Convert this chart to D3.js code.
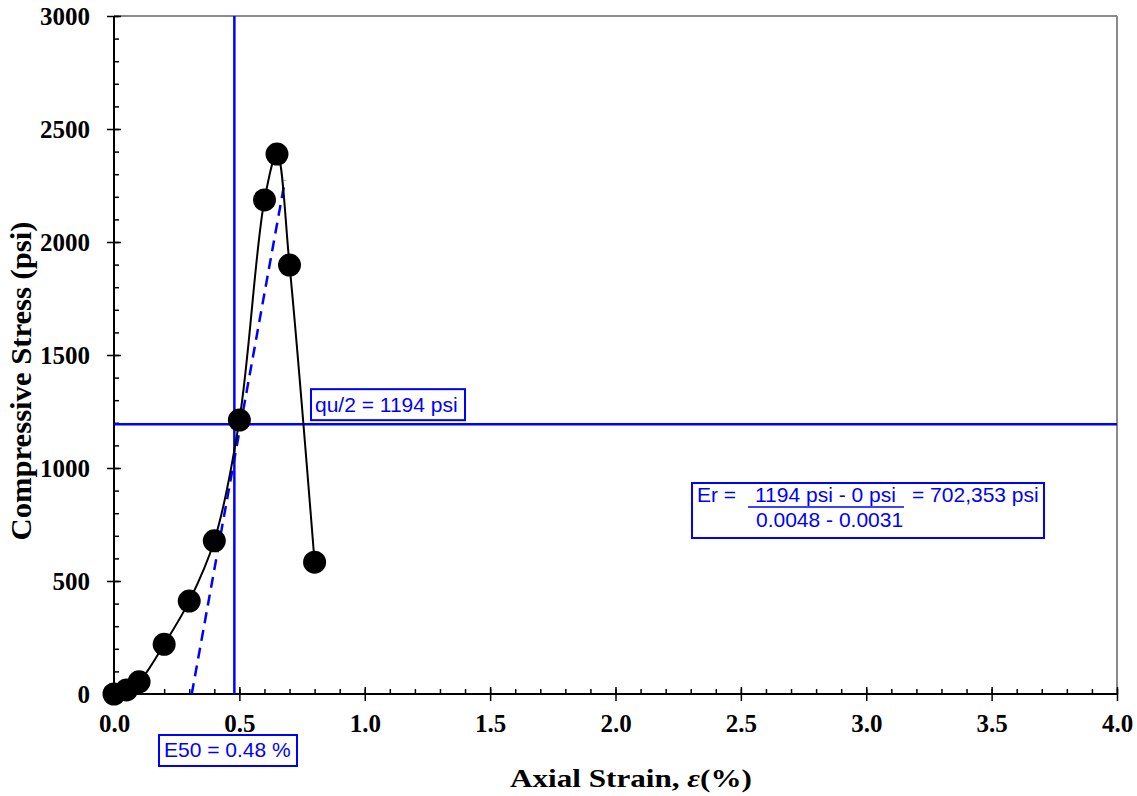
<!DOCTYPE html>
<html>
<head>
<meta charset="utf-8">
<script src="https://cdn.jsdelivr.net/npm/d3@7"></script>
<style>
  html, body { margin: 0; padding: 0; background: #fff; }
  svg { display: block; }
</style>
</head>
<body>
<svg id="chart" width="1137" height="796"></svg>
<script>
// Unconfined compression test: stress vs. axial strain
const strain = [0, 0.05, 0.1, 0.2, 0.3, 0.4, 0.5, 0.6, 0.65, 0.7, 0.8];      // %
const stress = [0, 18, 54, 220, 411, 678, 1212, 2186, 2389, 1898, 583];     // psi

const xTicks = [0, 0.5, 1, 1.5, 2, 2.5, 3, 3.5, 4];
const yTicks = [0, 500, 1000, 1500, 2000, 2500, 3000];

// Reference values
const e50 = 0.48;          // strain at half peak stress (%)
const quHalf = 1194;       // half of peak compressive stress (psi)
const tangentStrain = [0.31, 0.682];   // tangent line end points (%)
const tangentStress = [0, 2274];       // psi

const svg = d3.select("#chart");
const plotLeft = 114, plotRight = 1117, plotTop = 16, plotBottom = 694;

const x = d3.scaleLinear().domain([0, 4]).range([plotLeft, plotRight]);
const y = d3.scaleLinear().domain([0, 3000]).range([plotBottom, plotTop]);

const BLUE = "#0000ff";
const serif = "'Liberation Serif', 'Times New Roman', serif";
const sans = "'Liberation Sans', Arial, sans-serif";

// Frame: gray top and right edges
svg.append("line").attr("x1", plotLeft).attr("x2", plotRight).attr("y1", plotTop).attr("y2", plotTop)
  .attr("stroke", "#8a8a8a").attr("stroke-width", 2);
svg.append("line").attr("x1", plotRight).attr("x2", plotRight).attr("y1", plotTop).attr("y2", plotBottom)
  .attr("stroke", "#8a8a8a").attr("stroke-width", 2);

// Minor ticks (inside)
const xMinor = d3.range(0, 4.0001, 0.1);
const yMinor = d3.range(0, 3001, 100);
svg.append("g").attr("transform", `translate(0,${plotBottom})`)
  .call(d3.axisBottom(x).tickValues(xMinor).tickSizeInner(-5).tickSizeOuter(0).tickFormat(""))
  .call(g => g.select(".domain").remove())
  .call(g => g.selectAll("line").attr("stroke", "#000").attr("stroke-width", 1.5));
svg.append("g").attr("transform", `translate(${plotLeft},0)`)
  .call(d3.axisLeft(y).tickValues(yMinor).tickSizeInner(-5).tickSizeOuter(0).tickFormat(""))
  .call(g => g.select(".domain").remove())
  .call(g => g.selectAll("line").attr("stroke", "#000").attr("stroke-width", 1.5));

// Major ticks crossing the axes, with labels
const xAxis = svg.append("g").attr("transform", `translate(0,${plotBottom})`)
  .call(d3.axisBottom(x).tickValues(xTicks).tickSizeInner(7).tickSizeOuter(0)
    .tickPadding(13).tickFormat(d3.format(".1f")));
xAxis.select(".domain").remove();
xAxis.selectAll("line").attr("y1", -7).attr("stroke", "#000").attr("stroke-width", 1.5);
xAxis.selectAll("text").attr("font-family", serif).attr("font-weight", "bold")
  .attr("font-size", 25).attr("fill", "#000");

const yAxis = svg.append("g").attr("transform", `translate(${plotLeft},0)`)
  .call(d3.axisLeft(y).tickValues(yTicks).tickSizeInner(7).tickSizeOuter(0)
    .tickPadding(17).tickFormat(d3.format("d")));
yAxis.select(".domain").remove();
yAxis.selectAll("line").attr("x1", 7).attr("stroke", "#000").attr("stroke-width", 1.5);
yAxis.selectAll("text").attr("font-family", serif).attr("font-weight", "bold")
  .attr("font-size", 25).attr("fill", "#000");

// Axis lines
svg.append("line").attr("x1", plotLeft).attr("x2", plotLeft).attr("y1", plotTop).attr("y2", plotBottom)
  .attr("stroke", "#000").attr("stroke-width", 2);
svg.append("line").attr("x1", plotLeft).attr("x2", plotRight).attr("y1", plotBottom).attr("y2", plotBottom)
  .attr("stroke", "#000").attr("stroke-width", 2);

// Axis titles
svg.append("text")
  .attr("x", 510).attr("y", 787)
  .attr("font-family", serif).attr("font-weight", "bold").attr("font-size", 26)
  .attr("textLength", 242).attr("lengthAdjust", "spacingAndGlyphs")
  .call(t => {
    t.append("tspan").text("Axial Strain, ");
    t.append("tspan").attr("font-style", "italic").text("ε");
    t.append("tspan").text("(%)");
  });

svg.append("text")
  .attr("transform", "translate(31,381) rotate(-90)")
  .attr("text-anchor", "middle")
  .attr("font-family", serif).attr("font-weight", "bold").attr("font-size", 30)
  .attr("textLength", 319).attr("lengthAdjust", "spacingAndGlyphs")
  .text("Compressive Stress (psi)");

// E50 and qu/2 reference lines
svg.append("line")
  .attr("x1", x(e50)).attr("x2", x(e50)).attr("y1", y(3000)).attr("y2", y(0))
  .attr("stroke", BLUE).attr("stroke-width", 2.5);
svg.append("line")
  .attr("x1", x(0)).attr("x2", x(4)).attr("y1", y(quHalf)).attr("y2", y(quHalf))
  .attr("stroke", BLUE).attr("stroke-width", 2.5);

// Tangent modulus line (dashed)
svg.append("line")
  .attr("x1", x(tangentStrain[0])).attr("y1", y(tangentStress[0]))
  .attr("x2", x(tangentStrain[1])).attr("y2", y(tangentStress[1]))
  .attr("stroke", BLUE).attr("stroke-width", 2.5).attr("stroke-dasharray", "11,7");

// Stress-strain curve
const pts = strain.map((s, i) => [s, stress[i]]);
const line = d3.line().x(d => x(d[0])).y(d => y(d[1])).curve(d3.curveCatmullRom.alpha(0.5));
svg.append("path").datum(pts).attr("d", line)
  .attr("fill", "none").attr("stroke", "#000").attr("stroke-width", 2);

svg.append("g").selectAll("circle").data(pts).join("circle")
  .attr("cx", d => x(d[0])).attr("cy", d => y(d[1])).attr("r", 11.5)
  .attr("fill", "#000");

// Annotation boxes
function boxedLabel(bx, by, bw, bh) {
  return svg.append("rect").attr("x", bx).attr("y", by).attr("width", bw).attr("height", bh)
    .attr("fill", "#fff").attr("stroke", BLUE).attr("stroke-width", 2);
}
function blueText(tx, ty, str) {
  return svg.append("text").attr("x", tx).attr("y", ty)
    .attr("font-family", sans).attr("font-size", 21).attr("fill", BLUE).text(str);
}

// qu/2 label sits just above its line
const qy = y(quHalf);
boxedLabel(311, qy - 35, 154, 31);
blueText(315, qy - 12, `qu/2 = ${quHalf} psi`);

// E50 label below the x axis
boxedLabel(159, 735, 138, 31);
blueText(164, 757, `E50 = ${e50} %`);

// Modulus calculation
boxedLabel(692, 483, 352, 55);
blueText(697, 502, "Er =");
blueText(755, 502, `${quHalf} psi - 0 psi`);
svg.append("line").attr("x1", 748).attr("x2", 904).attr("y1", 507).attr("y2", 507)
  .attr("stroke", BLUE).attr("stroke-width", 1.5);
blueText(912, 502, "= 702,353 psi");
blueText(756, 527, "0.0048 - 0.0031");
</script>
</body>
</html>
